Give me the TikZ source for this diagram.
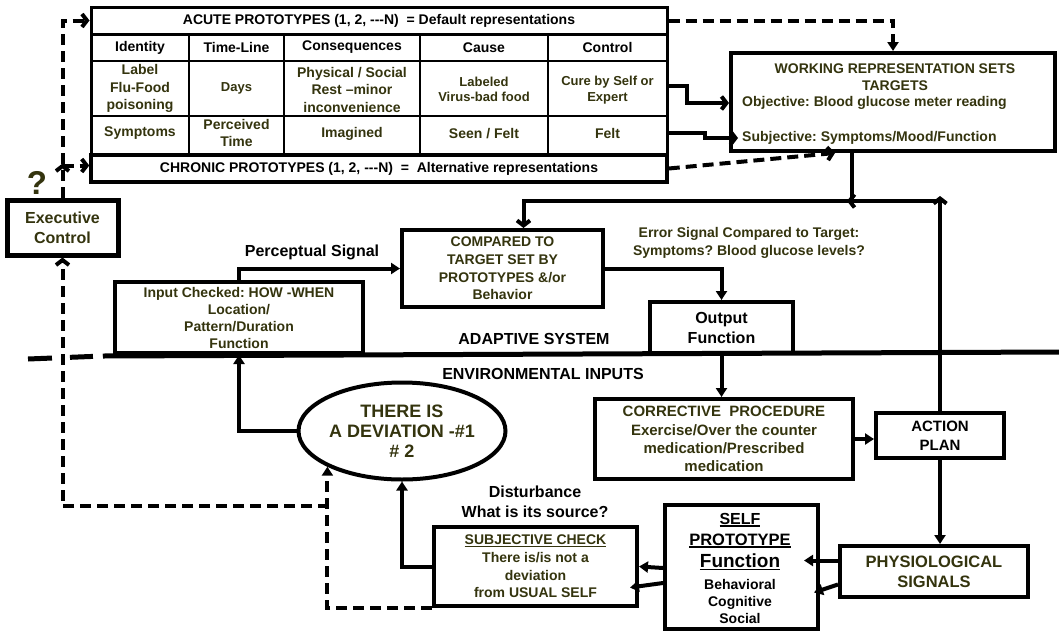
\documentclass[tikz,border=0pt]{standalone}
\usepackage{fontspec}
\setmainfont{Liberation Sans}
\usetikzlibrary{arrows.meta,shapes.geometric,calc}
\definecolor{txtolive}{RGB}{52,52,14}
\newcommand\fz[2]{\fontsize{#1pt}{#2pt}\selectfont\bfseries}
% underline drawn as a rule just below the baseline
\newcommand\ulbar[1]{\setbox0\hbox{#1}\rlap{\rule[-2.6pt]{\wd0}{1.6pt}}\box0}

\begin{document}
\frenchspacing
\begin{tikzpicture}[x=1pt,y=-1pt,
  every node/.style={inner sep=0pt, align=center},
  box/.style={draw, line width=4pt},
  olv/.style={text=txtolive},
  conn/.style={line width=4pt},
  dsh/.style={line width=4pt, dash pattern=on 11pt off 6pt},
  chev/.style={-{Straight Barb[length=5pt,width=13pt]}},
  tri/.style={-{Triangle[length=9pt,width=11pt]}},
]
\useasboundingbox (0,0) rectangle (1059,632);
\fill[white] (0,0) rectangle (1059,632);

% ---------------- prototype table ----------------
\node[box, line width=3pt, minimum width=576pt, minimum height=27pt, font=\fz{14}{17}] (acute) at (379,20.5)
  {ACUTE PROTOTYPES (1, 2, -{}-{}-N)~~= Default representations};
\node[box, line width=3.5pt, minimum width=576pt, minimum height=27pt, font=\fz{14}{17}] (chronic) at (379,168.5)
  {CHRONIC PROTOTYPES (1, 2, -{}-{}-N)~~=~~Alternative representations};
\draw[line width=3pt] (91,34) rectangle (667,155);
\draw[line width=2pt] (91,61) -- (667,61) (91,116) -- (667,116)
  (189,34) -- (189,155) (284,34) -- (284,155) (420,34) -- (420,155) (548,34) -- (548,155);

\node[font=\fz{14}{17}] (h1) at (140,47.5) {Identity};
\node[font=\fz{14}{17}] (h2) at (236.5,47.5) {Time-Line};
\node[font=\fz{14}{17}] (h3) at (352,47.5) {Consequences};
\node[font=\fz{14}{17}] (h4) at (484,47.5) {Cause};
\node[font=\fz{14}{17}] (h5) at (607.5,47.5) {Control};

\node[olv, font=\fz{14}{17.5}] (c21) at (140,88.5) {Label\\Flu-Food\\poisoning};
\node[olv, font=\fz{13}{16}] (c22) at (236.5,88.5) {Days};
\node[olv, font=\fz{14}{17.5}] (c23) at (352,89.5) {Physical / Social\\Rest –minor\\inconvenience};
\node[olv, font=\fz{13}{15.5}] (c24) at (484,89.5) {Labeled\\Virus-bad food};
\node[olv, font=\fz{13}{16}] (c25) at (607.5,90) {Cure by Self or\\Expert};

\node[olv, font=\fz{14}{17}] (c31) at (140,133.5) {Symptoms};
\node[olv, font=\fz{14}{17}] (c32) at (236.5,132.5) {Perceived\\Time};
\node[olv, font=\fz{14}{17}] (c33) at (352,133.5) {Imagined};
\node[olv, font=\fz{14}{17}] (c34) at (484,133.5) {Seen / Felt};
\node[olv, font=\fz{14}{17}] (c35) at (607.5,133.5) {Felt};

% ---------------- working representation ----------------
\node[box, minimum width=324pt, minimum height=98pt] (wr) at (893,102) {};
\node[olv, font=\fz{14}{17}] (wrt) at (895,77.5) {WORKING REPRESENTATION SETS\\TARGETS};
\node[olv, font=\fz{14}{17}, anchor=west] (obj) at (742,103) {Objective: Blood glucose meter reading};
\node[olv, font=\fz{14}{17}, anchor=west] (subj) at (742,138) {Subjective: Symptoms/Mood/Function};

% ---------------- executive control ----------------
\node[box, line width=5pt, minimum width=111pt, minimum height=55pt, olv, font=\fz{16}{20}] (exec) at (62.5,227.5) {Executive\\Control};
\node[olv, font=\fz{33}{33}] (qm) at (37,183) {?};

% ---------------- adaptive system ----------------
\node[box, minimum width=248pt, minimum height=71pt, olv, font=\fz{14}{17}] (inp) at (239,317.5)
  {Input Checked: HOW -WHEN\\Location/\\Pattern/Duration\\Function};
\node[box, minimum width=201pt, minimum height=77pt, olv, font=\fz{14}{17.7}] (cmp) at (502.5,268.5)
  {COMPARED TO\\TARGET SET BY\\PROTOTYPES \&/or\\Behavior};
\node[olv, font=\fz{14}{17.5}] (err) at (749,243) {Error Signal Compared to Target:\\Symptoms? Blood glucose levels?};
\node[box, minimum width=143pt, minimum height=51pt, font=\fz{16}{20}] (out) at (721.5,327.5) {Output\\Function};

\node[font=\fz{16}{20}] (persig) at (312,252) {Perceptual Signal};
\node[font=\fz{16}{20}] (adapt) at (534,339) {ADAPTIVE SYSTEM};
\node[font=\fz{16}{20}] (env) at (543,374) {ENVIRONMENTAL INPUTS};

% ---------------- environment ----------------
\node[draw, ellipse, line width=4pt, minimum width=207pt, minimum height=97pt, olv, font=\fz{18}{20}] (dev) at (402,431)
  {THERE IS\\A DEVIATION -\#1\\\# 2};
\node[box, minimum width=258pt, minimum height=80pt, olv, font=\fz{15}{18.3}] (cor) at (724,439)
  {CORRECTIVE~~PROCEDURE\\Exercise/Over the counter\\medication/Prescribed\\medication};
\node[box, minimum width=128pt, minimum height=45pt, font=\fz{15}{19}] (act) at (940,435.5) {ACTION\\PLAN};
\node[font=\fz{16}{20}] (dist) at (535,502) {Disturbance\\What is its source?};
\node[box, minimum width=203pt, minimum height=79pt, olv, font=\fz{14}{17.7}] (chk) at (535.5,566.5)
  {\ulbar{SUBJECTIVE CHECK}\\There is/is not a\\deviation\\from USUAL SELF};
\node[box, minimum width=153pt, minimum height=124pt] (self) at (741.5,567) {};
\node[font=\fz{16}{18}] (s1) at (740,520) {\ulbar{SELF}};
\node[font=\fz{16.5}{18}] (s2) at (740,541) {\ulbar{PROTOTYPE}};
\node[font=\fz{19}{20}] (s3) at (740,562) {\ulbar{Function}};
\node[font=\fz{14}{17}] (s4) at (740,601) {Behavioral\\Cognitive\\Social};
\node[box, minimum width=188pt, minimum height=51pt, olv, font=\fz{16.5}{20}] (phys) at (934,571.5) {PHYSIOLOGICAL\\SIGNALS};

% ---------------- boundary between system and environment ----------------
\coordinate (sepA) at (28,359);
\coordinate (sepB) at (103,356);
\coordinate (sepC) at (1059,352);
\draw[line width=5pt, dash pattern=on 24pt off 18pt on 23pt off 10pt] (sepA) -- (sepB);
\draw[line width=5pt] (sepB) -- (sepC);

% ---------------- connectors ----------------
\coordinate (jn) at (852,201);
\coordinate (dj) at (329,506);

% table to working representation
\draw[dsh, tri] (acute.east) -| (wr.north);
\draw[conn, chev] ($(acute.east |- c25)+(0,-4)$) -- ++(18,0) |- (wr.west |- obj);
\draw[conn, chev] ($(acute.east |- c35)+(0,-1)$) -- ++(36,0) |- ($(subj.west)+(-4,0)$);
\draw[dsh, chev] (chronic.east) -- ($(wr.south west)+(106,0)$);

% executive control to prototypes
\draw[dsh, chev] (exec.north) |- (acute.west);
\draw[dsh, chev] ($(exec.north |- chronic.west)+(0,-3)$) -- ($(chronic.west)+(0,-3)$);
\draw[dsh, chev] (exec.north) -- ($(exec.north |- chronic.west)+(0,-5)$);

% feedback loop
\draw[conn] (wr.south -| jn) -- (jn);
\draw[conn, chev] (act.north) -- ($(act.north |- jn)+(0,-5)$);
\draw[conn, chev] (act.north |- jn) -| ($(cmp.north)+(21,0)$);
\draw[conn, chev] ($(jn)+(14,0)$) -- ($(jn)+(-5,0)$);

\draw[conn, tri] (inp.north) |- (cmp.west);
\draw[conn, tri] (cmp.east) -| (out.north);
\draw[conn, tri] (out.south) -- (out.south |- cor.north);
\draw[conn, tri] (cor.east) -- (act.west |- cor.east);
\draw[conn, tri] (act.south) -- (act.south |- phys.north);
\draw[conn, tri] ($(phys.west)+(0,-11)$) -- ++(-34,0);
\draw[conn, tri] ($(phys.west)+(0,13)$) -- ++(-24,8);
\draw[conn, tri] ($(self.west)+(0,1)$) -- (chk.east);
\draw[conn, tri] ($(self.west)+(0,16)$) -- ($(chk.east)+(-9,21)$);
\draw[conn, tri] (chk.west) -| (dev.south);
\draw[conn, tri] (dev.west) -| (inp.south);

% dashed return paths
\draw[dsh, tri] (chk.south west) -| (dev.south west);
\draw[dsh, chev] (dj) -| (exec.south);
\end{tikzpicture}
\end{document}
